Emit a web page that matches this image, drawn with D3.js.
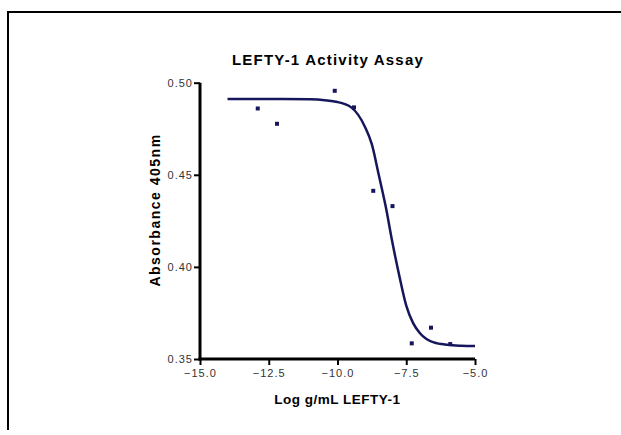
<!DOCTYPE html>
<html>
<head>
<meta charset="utf-8">
<script src="https://cdn.jsdelivr.net/npm/d3@7"></script>
<style>
html,body{margin:0;padding:0;background:#fff;}
svg{display:block;font-family:"Liberation Sans",Arial,sans-serif;}
</style>
</head>
<body>
<svg id="chart" width="621" height="435"></svg>
<script>
// Data
const logConc = [-12.9, -12.2, -10.1, -9.4, -8.7, -8.0, -7.3, -6.6, -5.9];
const absorbance = [0.4860, 0.4777, 0.4956, 0.4866, 0.4413, 0.4330, 0.3585, 0.3670, 0.3581];
// fitted curve
const fitX = [-14, -12, -11, -10, -9.5, -9, -8.75, -8.5, -8.25, -8.0, -7.75, -7.5, -7.25, -7.0, -6.5, -6.0, -5.5, -5.0];
const fitY = [0.4912, 0.4912, 0.4910, 0.4895, 0.4866, 0.4760, 0.4665, 0.4500, 0.4330, 0.4130, 0.3950, 0.3790, 0.3695, 0.3640, 0.3590, 0.3577, 0.3572, 0.3570];
const xTicks = [-15.0, -12.5, -10.0, -7.5, -5.0];
const yTicks = [0.35, 0.40, 0.45, 0.50];
const titleText = "LEFTY-1 Activity Assay";
const xLabel = "Log g/mL LEFTY-1";
const yLabel = "Absorbance 405nm";

const svg = d3.select("#chart");
const navy = "#16165c";

// frame
svg.append("path").attr("d", "M8,430 V12 H621").attr("fill", "none").attr("stroke", "#000").attr("stroke-width", 2);

const x = d3.scaleLinear().domain([-15, -5]).range([200, 475]);
const y = d3.scaleLinear().domain([0.35, 0.50]).range([359, 82.7]);

// axes
const xAxis = svg.append("g").attr("transform", "translate(0,359)")
  .call(d3.axisBottom(x).tickValues(xTicks).tickFormat(d3.format(".1f")).tickSize(6).tickSizeOuter(0));
const yAxis = svg.append("g").attr("transform", "translate(200,0)")
  .call(d3.axisLeft(y).tickValues(yTicks).tickFormat(d3.format(".2f")).tickSize(6).tickSizeOuter(0));

[xAxis, yAxis].forEach(g => {
  g.select(".domain").attr("stroke", "#000").attr("stroke-width", 3);
  g.selectAll(".tick line").attr("stroke", "#000").attr("stroke-width", 2);
  g.selectAll(".tick text").attr("fill", "#333").style("font-size", "11px").style("letter-spacing", "1px")
    .style("font-family", "'Liberation Sans', Arial, sans-serif");
});
xAxis.selectAll(".tick text").attr("dy", null).attr("y", 18);
yAxis.selectAll(".tick text").attr("x", -7).attr("dy", "0.35em");
xAxis.select(".domain").attr("d", `M${x(-15)-1.5},0H${x(-5)}`);
yAxis.select(".domain").attr("d", `M0,${y(0.50)}V${y(0.35)+1.5}`);

// fitted curve
const line = d3.line().x((d, i) => x(fitX[i])).y((d, i) => y(fitY[i])).curve(d3.curveMonotoneX);
svg.append("path").datum(fitX).attr("d", line).attr("fill", "none").attr("stroke", navy).attr("stroke-width", 2.5);

// points
svg.append("g").selectAll("rect").data(logConc).join("rect")
  .attr("x", (d) => x(d) - 2).attr("y", (d, i) => y(absorbance[i]) - 2)
  .attr("width", 4).attr("height", 4).attr("fill", navy);

// titles
svg.append("text").attr("x", 328).attr("y", 65).attr("text-anchor", "middle")
  .style("font-size", "15px").style("font-weight", "bold").style("letter-spacing", "1.2px").attr("fill", "#000")
  .text(titleText);
svg.append("text").attr("x", 337.5).attr("y", 404).attr("text-anchor", "middle")
  .style("font-size", "13.5px").style("font-weight", "bold").style("letter-spacing", "0.5px").attr("fill", "#000")
  .text(xLabel);
svg.append("text").attr("transform", "translate(160,210) rotate(-90)").attr("text-anchor", "middle")
  .style("font-size", "14px").style("font-weight", "bold").style("letter-spacing", "1.5px").attr("fill", "#000")
  .text(yLabel);
</script>
</body>
</html>
